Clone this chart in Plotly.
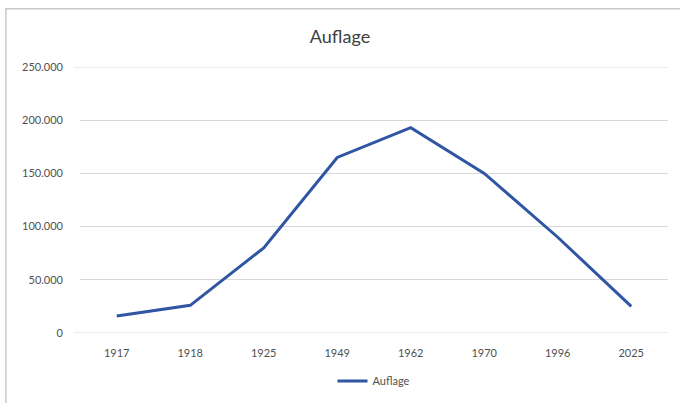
import plotly.graph_objects as go

years = ["1917", "1918", "1925", "1949", "1962", "1970", "1996", "2025"]
auflage = [16000, 26000, 80000, 165000, 193000, 150000, 90000, 25000]
y_ticks = [0, 50000, 100000, 150000, 200000, 250000]
y_tick_labels = ["0", "50.000", "100.000", "150.000", "200.000", "250.000"]

font_family = "Lato, Open Sans, sans-serif"

fig = go.Figure()
fig.add_trace(go.Scatter(
    x=years, y=auflage, mode="lines", name="Auflage",
    line=dict(color="#2F55A3", width=3),
))

fig.update_layout(
    width=680, height=403,
    margin=dict(l=80, r=12, t=67, b=70, autoexpand=False),
    paper_bgcolor="white", plot_bgcolor="white",
    title=dict(text="Auflage", x=0.5, xanchor="center", y=0.91, yanchor="middle",
               font=dict(family=font_family, size=18, color="#404040")),
    font=dict(family=font_family, size=11, color="#505050"),
    showlegend=True,
    legend=dict(orientation="h", x=0.5, xanchor="center", y=-0.18, yanchor="middle",
                font=dict(size=11, color="#505050"), itemwidth=30),
    xaxis=dict(type="category", range=[-0.5, 7.5], showgrid=False, zeroline=False,
               showline=False, ticks="", ticklabelstandoff=12,
               tickfont=dict(size=11, color="#505050")),
    yaxis=dict(range=[0, 250000], tickvals=y_ticks, ticktext=y_tick_labels,
               showgrid=True, gridcolor="#D9D9D9", gridwidth=1, zeroline=False,
               showline=False, ticks="", ticklabelstandoff=16, automargin=False,
               tickfont=dict(size=11, color="#505050")),
    shapes=[dict(type="rect", xref="paper", yref="paper",
                 x0=-0.126, x1=1.03, y0=-0.30, y1=1.219,
                 line=dict(color="#C8C8C8", width=1.5), fillcolor="rgba(0,0,0,0)",
                 layer="below"),
            dict(type="line", xref="paper", yref="y", x0=-0.01, x1=1.0, y0=0, y1=0,
                 line=dict(color="#D9D9D9", width=1), layer="below"),
            dict(type="line", xref="paper", yref="y", x0=-0.01, x1=1.0,
                 y0=250000, y1=250000,
                 line=dict(color="#D9D9D9", width=1), layer="below")],
)

fig.write_html("out.html", config={"displayModeBar": False},
               post_script="document.body.style.margin='0';")
